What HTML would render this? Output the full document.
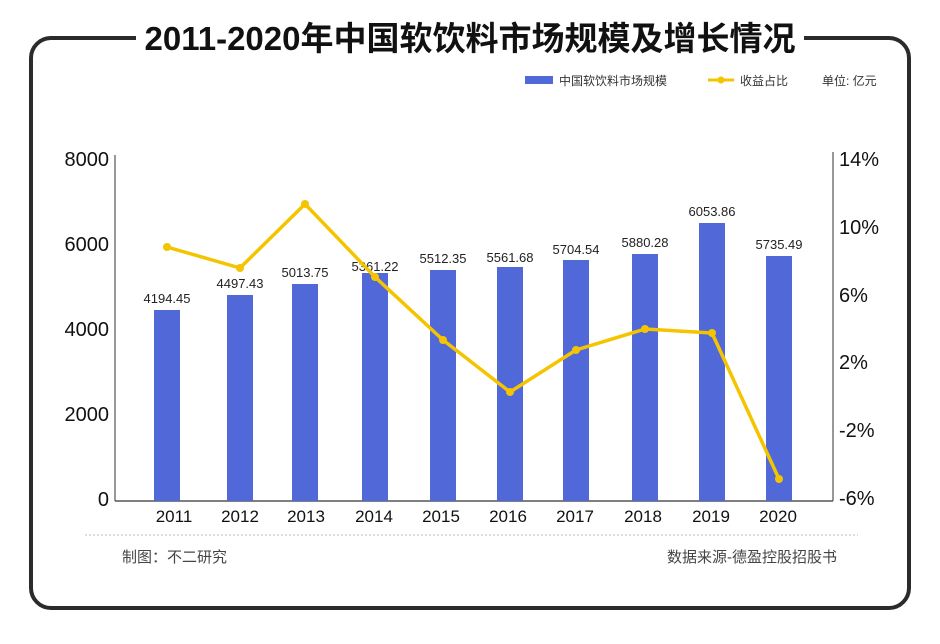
<!DOCTYPE html>
<html><head><meta charset="utf-8"><style>
html,body{margin:0;padding:0;background:#fff;}
svg{display:block;font-family:"Liberation Sans","Noto Sans CJK SC",sans-serif;}
</style></head><body>
<svg width="940" height="644" viewBox="0 0 940 644">
<rect x="31" y="38" width="878" height="570" rx="20" ry="20" fill="none" stroke="#2b2b2b" stroke-width="4"/>
<rect x="136" y="18" width="668" height="42" fill="#fff"/>
<text x="470" y="50" text-anchor="middle" font-size="33" font-weight="bold" fill="#111">2011-2020年中国软饮料市场规模及增长情况</text>
<rect x="525" y="76" width="28" height="8" fill="#5068d8"/>
<text x="559" y="85" font-size="12" fill="#333">中国软饮料市场规模</text>
<line x1="708" y1="80" x2="734" y2="80" stroke="#f5c400" stroke-width="3"/>
<circle cx="721" cy="80" r="3.5" fill="#f5c400"/>
<text x="740" y="85" font-size="12" fill="#333">收益占比</text>
<text x="822" y="85" font-size="12" fill="#333">单位: 亿元</text>
<line x1="115" y1="155" x2="115" y2="501" stroke="#555" stroke-width="1.2"/>
<line x1="833" y1="152" x2="833" y2="501" stroke="#555" stroke-width="1.2"/>
<line x1="115" y1="501" x2="833" y2="501" stroke="#555" stroke-width="1.5"/>
<g font-size="20" fill="#111" text-anchor="end">
<text x="109" y="166">8000</text><text x="109" y="251">6000</text><text x="109" y="336">4000</text><text x="109" y="421">2000</text><text x="109" y="506">0</text>
</g>
<g font-size="20" fill="#111">
<text x="839" y="166">14%</text><text x="839" y="234">10%</text><text x="839" y="302">6%</text><text x="839" y="369">2%</text><text x="839" y="437">-2%</text><text x="839" y="505">-6%</text>
</g>
<g fill="#5068d8">
<rect x="154" y="310" width="26" height="191"/>
<rect x="227" y="295" width="26" height="206"/>
<rect x="292" y="284" width="26" height="217"/>
<rect x="362" y="273" width="26" height="228"/>
<rect x="430" y="270" width="26" height="231"/>
<rect x="497" y="267" width="26" height="234"/>
<rect x="563" y="260" width="26" height="241"/>
<rect x="632" y="254" width="26" height="247"/>
<rect x="699" y="223" width="26" height="278"/>
<rect x="766" y="256" width="26" height="245"/>
</g>
<g font-size="13" fill="#222" text-anchor="middle">
<text x="167" y="303">4194.45</text>
<text x="240" y="288">4497.43</text>
<text x="305" y="277">5013.75</text>
<text x="375" y="271">5361.22</text>
<text x="443" y="263">5512.35</text>
<text x="510" y="262">5561.68</text>
<text x="576" y="254">5704.54</text>
<text x="645" y="247">5880.28</text>
<text x="712" y="216">6053.86</text>
<text x="779" y="249">5735.49</text>
</g>
<polyline points="167,247 240,268 305,204 375,277 443,340 510,392 576,350 645,329 712,333 779,479" fill="none" stroke="#f5c400" stroke-width="3.5" stroke-linejoin="round"/>
<g fill="#f5c400">
<circle cx="167" cy="247" r="4"/><circle cx="240" cy="268" r="4"/><circle cx="305" cy="204" r="4"/><circle cx="375" cy="277" r="4"/><circle cx="443" cy="340" r="4"/><circle cx="510" cy="392" r="4"/><circle cx="576" cy="350" r="4"/><circle cx="645" cy="329" r="4"/><circle cx="712" cy="333" r="4"/><circle cx="779" cy="479" r="4"/>
</g>
<g font-size="17" fill="#111" text-anchor="middle">
<text x="174" y="522">2011</text><text x="240" y="522">2012</text><text x="306" y="522">2013</text><text x="374" y="522">2014</text><text x="441" y="522">2015</text><text x="508" y="522">2016</text><text x="575" y="522">2017</text><text x="643" y="522">2018</text><text x="711" y="522">2019</text><text x="778" y="522">2020</text>
</g>
<line x1="85" y1="535" x2="858" y2="535" stroke="#bbb" stroke-width="1" stroke-dasharray="2,2"/>
<text x="122" y="562" font-size="15" fill="#444">制图：不二研究</text>
<text x="837" y="562" font-size="15" fill="#444" text-anchor="end">数据来源-德盈控股招股书</text>
</svg>
</body></html>
